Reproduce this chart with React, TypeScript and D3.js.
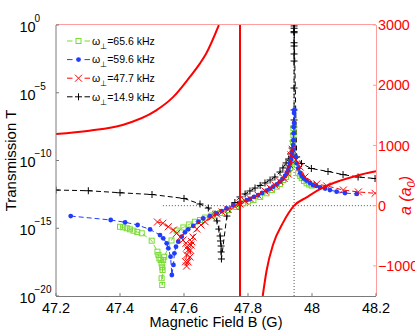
import React from "react";
import * as d3 from "d3";

const W = 415;
const H = 334;
const PL = 56, PR = 376, PT = 25, PB = 296;

const xTicks = [47.2, 47.4, 47.6, 47.8, 48, 48.2];
const xTickLabels = ["47.2", "47.4", "47.6", "47.8", "48", "48.2"];
const yLeftExponents = [0, -5, -10, -15, -20];
const yRightTicks = [3000, 2000, 1000, 0, -1000];
const yRightTickLabels = ["3000", "2000", "1000", "0", "\u22121000"];

const legendLabels = ["=65.6 kHz", "=59.6 kHz", "=47.7 kHz", "=14.9 kHz"];

// omega_perp = 14.9 kHz (black +)
const blackB = [47.2, 47.301, 47.4, 47.5, 47.6, 47.65, 47.676, 47.697, 47.703, 47.709, 47.713, 47.714, 47.716, 47.716, 47.717,
  47.734, 47.759, 47.775, 47.791, 47.806, 47.822, 47.838, 47.853, 47.869, 47.884, 47.9, 47.909, 47.919, 47.927, 47.933, 47.938,
  47.941, 47.942, 47.943, 47.944, 47.944, 47.944, 47.944, 47.944, 47.944, 47.944, 47.944, 47.944, 47.944, 47.944,
  47.952, 47.967, 47.998, 48.05, 48.097, 48.144, 48.197];
const blackLogT = [-12.18, -12.23, -12.38, -12.51, -12.8, -13.21, -13.51, -13.95, -14.46, -15.06, -15.57, -15.94, -16.31, -16.75, -17.27,
  -14.1, -13.1, -12.69, -12.47, -12.25, -12.03, -11.84, -11.66, -11.44, -11.22, -10.85, -10.55, -10.18, -9.89, -9.52, -9.08,
  -8.56, -8.04, -7.53, -7.01, -6.27, -4.65, -2.66, -2.14, -1.55, -1.31, -0.57, -0.49, -0.24, -0.07,
  -9.74, -10.22, -10.59, -10.81, -11.04, -11.22, -11.33];

// omega_perp = 59.6 kHz (blue dots)
const blueB = [47.246, 47.371, 47.416, 47.455, 47.494, 47.525, 47.535, 47.546, 47.551, 47.558, 47.562, 47.567, 47.57, 47.575, 47.582,
  47.593, 47.603, 47.613, 47.629, 47.645, 47.66, 47.681, 47.702, 47.718, 47.733, 47.754, 47.775, 47.796, 47.806, 47.819, 47.832,
  47.844, 47.858, 47.869, 47.879, 47.89, 47.9, 47.908, 47.916, 47.921, 47.926, 47.929, 47.931, 47.934, 47.937, 47.938, 47.94,
  47.941, 47.942, 47.943, 47.943, 47.944, 47.944, 47.945,
  47.949, 47.952, 47.957, 47.963, 47.968, 47.975, 47.983, 47.994, 48.003, 48.013, 48.025, 48.041, 48.056, 48.077, 48.103, 48.14];
const blueLogT = [-14.1, -14.39, -14.56, -14.76, -15.09, -15.5, -15.74, -16.11, -16.48, -17.1, -18.45, -17.71, -16.85, -16.36, -15.99,
  -15.62, -15.3, -15.08, -14.83, -14.52, -14.27, -14.1, -13.9, -13.73, -13.53, -13.28, -13.11, -12.92, -12.84, -12.69, -12.55,
  -12.4, -12.23, -12.07, -11.93, -11.76, -11.56, -11.37, -11.14, -10.92, -10.7, -10.46, -10.21, -9.96, -9.72, -9.45, -9.23,
  -8.86, -8.49, -7.99, -7.53, -7.23, -6.49, -6.27,
  -9.72, -10.21, -10.58, -10.92, -11.14, -11.33, -11.48, -11.66, -11.81, -11.88, -11.98, -12.07, -12.18, -12.3, -12.4, -12.47];

// omega_perp = 65.6 kHz (green squares)
const greenB = [47.4, 47.41, 47.421, 47.431, 47.442, 47.454, 47.468, 47.499, 47.517, 47.52, 47.523, 47.527, 47.53, 47.532, 47.533,
  47.53, 47.532, 47.535, 47.538, 47.561, 47.577, 47.598, 47.616, 47.634, 47.65, 47.666, 47.688, 47.713, 47.738, 47.763, 47.785,
  47.8, 47.817, 47.838, 47.858, 47.875, 47.89, 47.9, 47.91, 47.919, 47.926, 47.931, 47.936, 47.939, 47.941, 47.942, 47.942,
  47.952, 47.957, 47.963, 47.968, 47.975, 47.983, 47.991, 47.999];
const greenLogT = [-14.89, -14.93, -15.0, -15.08, -15.18, -15.28, -15.37, -15.92, -16.73, -16.97, -17.22, -17.34, -17.59, -17.88, -18.08,
  -18.69, -19.19, -17.34, -17.1, -15.9, -15.17, -14.94, -14.72, -14.52, -14.39, -14.21, -14.06, -13.87, -13.65, -13.43, -13.16,
  -13.03, -12.92, -12.69, -12.42, -12.18, -11.93, -11.73, -11.44, -11.22, -10.94, -10.55, -10.11, -9.37, -8.63, -8.12, -7.6,
  -10.33, -10.94, -11.14, -11.31, -11.51, -11.68, -11.77, -11.85];

// omega_perp = 47.7 kHz (red x)
const redB = [47.517, 47.534, 47.551, 47.567, 47.577, 47.588, 47.597, 47.606, 47.61, 47.613, 47.608, 47.605, 47.608, 47.613, 47.619,
  47.62, 47.622, 47.624, 47.628, 47.64, 47.653, 47.666, 47.687, 47.702, 47.719, 47.738, 47.759, 47.775, 47.791, 47.806, 47.831,
  47.853, 47.869, 47.884, 47.9, 47.913, 47.926, 47.931, 47.934, 47.938,
  47.95, 47.963, 47.978, 48.015, 48.046, 48.098, 48.145, 48.197];
const redLogT = [-14.54, -14.63, -14.89, -15.13, -15.37, -15.65, -15.87, -16.11, -16.38, -16.61, -16.97, -17.47, -17.79, -17.49, -17.12,
  -16.61, -16.24, -15.99, -15.65, -15.06, -14.76, -14.52, -14.17, -13.95, -13.8, -13.62, -13.39, -13.21, -12.99, -12.8, -12.55,
  -12.25, -12.03, -11.81, -11.56, -11.33, -11.0, -10.33, -9.59, -9.17,
  -9.96, -10.48, -11.22, -11.73, -11.88, -12.18, -12.32, -12.42];

// scattering length a (a0), right axis
const aLeftB = [47.2, 47.304, 47.408, 47.512, 47.565, 47.617, 47.65, 47.669, 47.709];
const aLeftVal = [1190, 1245, 1340, 1578, 1798, 2130, 2363, 2524, 3000];
const aRightB = [47.846, 47.858, 47.879, 47.91, 47.944, 47.983, 48.035, 48.088, 48.14, 48.2];
const aRightVal = [-1500, -1080, -636, -277, 0, 138, 304, 415, 498, 570];
const resonanceB = 47.775;
const zeroCrossB = 47.944;
const zeroLineStartB = 47.534;

const GREEN = "#78dc32";
const BLUE = "#1f3dff";
const RED = "#ff0000";
const BLACK = "#000000";
const PINK = "#ff9c9c";
const GRAY = "#7a7a7a";
const FONT = "'Liberation Sans', Arial, Helvetica, sans-serif";

const x = d3.scaleLinear().domain([47.2, 48.2]).range([PL, PR]);
const yL = d3.scaleLog().domain([1e-20, 1]).range([PB, PT]);
const yR = d3.scaleLinear().domain([-1500, 3000]).range([PB, PT]);

const zip = (a: number[], b: number[]) => a.map((v, i) => [v, b[i]] as [number, number]);

const dataLine = d3
  .line<[number, number]>()
  .x((d) => x(d[0]))
  .y((d) => yL(Math.pow(10, d[1])));

const aLine = d3
  .line<[number, number]>()
  .x((d) => x(d[0]))
  .y((d) => yR(d[1]))
  .curve(d3.curveMonotoneX);

type Kind = "square" | "dot" | "x" | "plus";

function Marker({ kind, cx, cy, color }: { kind: Kind; cx: number; cy: number; color: string }) {
  if (kind === "square")
    return <rect x={cx - 2.5} y={cy - 2.5} width={5} height={5} fill="none" stroke={color} strokeWidth={1} />;
  if (kind === "dot") return <circle cx={cx} cy={cy} r={2.4} fill={color} />;
  if (kind === "x")
    return (
      <path
        d={`M${cx - 3.5},${cy - 3.5}L${cx + 3.5},${cy + 3.5}M${cx - 3.5},${cy + 3.5}L${cx + 3.5},${cy - 3.5}`}
        stroke={color}
        strokeWidth={1}
        fill="none"
      />
    );
  return (
    <path
      d={`M${cx - 3.5},${cy}H${cx + 3.5}M${cx},${cy - 3.5}V${cy + 3.5}`}
      stroke={color}
      strokeWidth={1}
      fill="none"
    />
  );
}

const series = [
  { B: greenB, L: greenLogT, color: GREEN, kind: "square" as Kind },
  { B: blueB, L: blueLogT, color: BLUE, kind: "dot" as Kind },
  { B: redB, L: redLogT, color: RED, kind: "x" as Kind },
  { B: blackB, L: blackLogT, color: BLACK, kind: "plus" as Kind },
];

export default function App() {
  const drawOrder = [3, 0, 1, 2];
  return (
    <svg width={W} height={H} style={{ position: "absolute", left: 0, top: 0, background: "#fff" }} fontFamily={FONT}>
      <defs>
        <clipPath id="plotclip">
          <rect x={PL} y={PT} width={PR - PL} height={PB - PT} />
        </clipPath>
      </defs>
      <rect x={0} y={0} width={W} height={H} fill="#fff" />

      {/* dotted guide lines */}
      <line x1={x(zeroLineStartB)} x2={PR} y1={yR(0)} y2={yR(0)} stroke="#555" strokeWidth={1} strokeDasharray="1,2" />
      <line x1={x(zeroCrossB)} x2={x(zeroCrossB)} y1={PT} y2={PB} stroke="#555" strokeWidth={1} strokeDasharray="1,2" />

      <g clipPath="url(#plotclip)">
        {drawOrder.map((si) => {
          const s = series[si];
          const pts = zip(s.B, s.L);
          return (
            <g key={si}>
              <path d={dataLine(pts) || ""} fill="none" stroke={s.color} strokeWidth={1} strokeDasharray="5,3" />
              {pts.map((p, i) => (
                <Marker key={i} kind={s.kind} cx={x(p[0])} cy={yL(Math.pow(10, p[1]))} color={s.color} />
              ))}
            </g>
          );
        })}
        {/* scattering length curves */}
        <path d={aLine(zip(aLeftB, aLeftVal)) || ""} fill="none" stroke={RED} strokeWidth={2} />
        <path d={aLine(zip(aRightB, aRightVal)) || ""} fill="none" stroke={RED} strokeWidth={2} />
        <line x1={x(resonanceB)} x2={x(resonanceB)} y1={PT} y2={PB} stroke={RED} strokeWidth={2} />
      </g>

      {/* axes frame */}
      <line x1={PL} x2={PL} y1={PT} y2={PB} stroke={GRAY} strokeWidth={1} />
      <line x1={PL} x2={PR} y1={PB + 0.5} y2={PB + 0.5} stroke={GRAY} strokeWidth={1} />
      <line x1={PL} x2={PR} y1={PT - 0.5} y2={PT - 0.5} stroke={PINK} strokeWidth={1} />
      <line x1={PR + 0.5} x2={PR + 0.5} y1={PT} y2={PB} stroke={PINK} strokeWidth={1} />

      {/* x ticks */}
      {xTicks.map((t, i) => (
        <g key={i}>
          <line x1={x(t)} x2={x(t)} y1={PB} y2={PB - 3} stroke={GRAY} strokeWidth={1} />
          <text x={x(t)} y={313} fontSize={14.5} textAnchor="middle" fill="#000">
            {xTickLabels[i]}
          </text>
        </g>
      ))}
      <text x={(PL + PR) / 2} y={327} fontSize={14.5} textAnchor="middle" fill="#000">
        Magnetic Field B (G)
      </text>

      {/* left ticks */}
      {yLeftExponents.map((e, i) => {
        const yy = yL(Math.pow(10, e));
        return (
          <g key={i}>
            <line x1={PL} x2={PL + 3} y1={yy} y2={yy} stroke={GRAY} strokeWidth={1} />
            <text x={19.5} y={yy + 6.8} fontSize={14.5} fill="#000">
              10
            </text>
            <text x={34.5} y={yy - 3.2} fontSize={10} fill="#000">
              {e === 0 ? "0" : "\u2212" + Math.abs(e)}
            </text>
          </g>
        );
      })}
      <text transform={`translate(16,${(PT + PB) / 2}) rotate(-90)`} fontSize={15} textAnchor="middle" fill="#000">
        Transmission T
      </text>

      {/* right ticks */}
      {yRightTicks.map((t, i) => (
        <g key={i}>
          <line x1={PR} x2={PR - 3} y1={yR(t)} y2={yR(t)} stroke={PINK} strokeWidth={1} />
          <text x={378} y={yR(t) + 5.2} fontSize={14.3} fill={RED}>
            {yRightTickLabels[i]}
          </text>
        </g>
      ))}
      <text transform={`translate(411,215) rotate(-90)`} fontSize={16} fontStyle="italic" fill={RED}>
        a (a
        <tspan dy={4} fontSize={11}>0</tspan>
        <tspan dy={-4}>)</tspan>
      </text>

      {/* legend */}
      {series.map((s, i) => {
        const ly = 41 + i * 18.6;
        return (
          <g key={i}>
            <line x1={67} x2={90} y1={ly} y2={ly} stroke={s.color} strokeWidth={1} strokeDasharray="5.5,12,5.5" />
            <Marker kind={s.kind} cx={78.5} cy={ly} color={s.color} />
            <text x={92} y={ly + 3.8} fontSize={10.5} fill="#000">
              ω<tspan dy={4} fontSize={7.5}>⊥</tspan>
              <tspan dy={-4}>{legendLabels[i]}</tspan>
            </text>
          </g>
        );
      })}
    </svg>
  );
}
